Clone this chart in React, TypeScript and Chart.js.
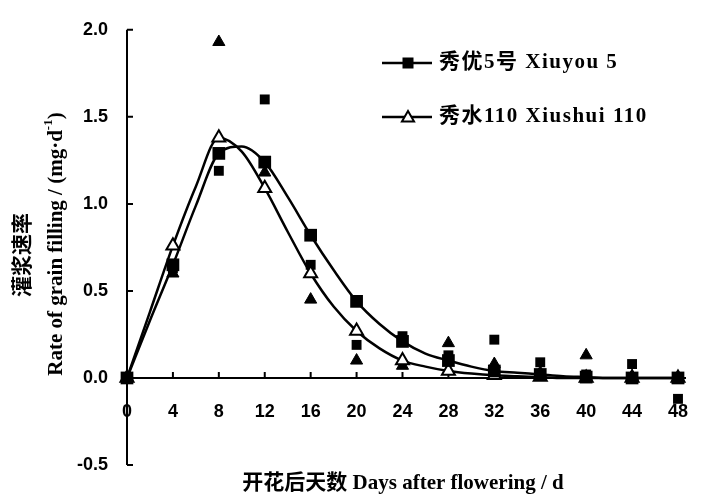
import React, { useEffect, useRef } from 'react';
import { Chart, registerables } from 'chart.js';

Chart.register(...registerables);

// ---- data ----
const days = [0, 4, 8, 12, 16, 20, 24, 28, 32, 36, 40, 44, 48];
const curveDays = [0, 2, 4, 6, 8, 10, 12, 14, 16, 18, 20, 22, 24, 26, 28, 30, 32, 34, 36, 38, 40, 42, 44, 46, 48];
const xiuyouCurve = [0, 0.33, 0.65, 0.99, 1.29, 1.33, 1.24, 1.04, 0.82, 0.62, 0.44, 0.31, 0.21, 0.14, 0.10, 0.065, 0.04, 0.03, 0.02, 0.01, 0.005, 0, 0, 0, 0];
const xiushuiCurve = [0, 0.38, 0.76, 1.10, 1.38, 1.30, 1.09, 0.84, 0.60, 0.41, 0.27, 0.17, 0.10, 0.065, 0.04, 0.025, 0.015, 0.01, 0.005, 0, 0, 0, 0, 0, 0];
const xiuyouObserved = [0, 0.63, 1.19, 1.60, 0.65, 0.19, 0.24, 0.13, 0.22, 0.09, 0.02, 0.08, -0.12];
const xiushuiObserved = [0, 0.60, 1.93, 1.18, 0.45, 0.10, 0.07, 0.20, 0.08, 0.03, 0.13, 0.01, -0.01];
const yTicks = [-0.5, 0, 0.5, 1.0, 1.5, 2.0];
const xTicks = days;
const seriesNames = ['秀优5号 Xiuyou 5', '秀水110 Xiushui 110'];
const xTitle = '开花后天数 Days after flowering / d';
const yTitleCn = '灌浆速率';
const yTitleEn = 'Rate of grain filling / (mg·d';
const yTitleSup = '-1';
const yTitleEnd = ')';

const SERIF = '"Liberation Serif", "Noto Sans CJK SC", serif';
const SANS = '"Liberation Sans", Arial, sans-serif';

const drawSquare = (ctx: CanvasRenderingContext2D, x: number, y: number, s: number) => {
  ctx.fillStyle = '#000';
  ctx.fillRect(x - s / 2, y - s / 2, s, s);
};
const drawTriangle = (ctx: CanvasRenderingContext2D, x: number, y: number, r: number, fill: string) => {
  ctx.beginPath();
  for (let i = 0; i < 3; i++) {
    const a = (i * 2 * Math.PI) / 3;
    const px = x + Math.sin(a) * r;
    const py = y - Math.cos(a) * r;
    if (i === 0) ctx.moveTo(px, py);
    else ctx.lineTo(px, py);
  }
  ctx.closePath();
  ctx.fillStyle = fill;
  ctx.fill();
  ctx.lineWidth = 2;
  ctx.strokeStyle = '#000';
  ctx.stroke();
};

const decorations = {
  id: 'decorations',
  beforeDatasetsDraw(chart: any) {
    const { ctx, scales } = chart;
    const x = scales.x;
    const y = scales.y;
    const x0 = x.getPixelForValue(0);
    const x1 = x.getPixelForValue(48);
    const yTop = y.getPixelForValue(2.0);
    const yBot = y.getPixelForValue(-0.5);
    const yZero = y.getPixelForValue(0);
    ctx.save();
    ctx.strokeStyle = '#000';
    ctx.lineWidth = 2;
    ctx.beginPath();
    ctx.moveTo(x0, yTop);
    ctx.lineTo(x0, yBot);
    ctx.moveTo(x0, yZero);
    ctx.lineTo(x1 + 8, yZero);
    yTicks.forEach((v) => {
      const py = y.getPixelForValue(v);
      ctx.moveTo(x0, py);
      ctx.lineTo(x0 + 6, py);
    });
    xTicks.forEach((v) => {
      const px = x.getPixelForValue(v);
      ctx.moveTo(px, yZero);
      ctx.lineTo(px, yZero - 6);
    });
    ctx.stroke();
    ctx.restore();
  },
  afterDraw(chart: any) {
    const { ctx } = chart;
    ctx.save();
    ctx.fillStyle = '#000';
    // x title
    ctx.font = `bold 21px ${SERIF}`;
    ctx.textAlign = 'center';
    ctx.textBaseline = 'middle';
    ctx.fillText(xTitle, 403, 484);

    // y titles (rotated)
    ctx.save();
    ctx.translate(21, 255);
    ctx.rotate(-Math.PI / 2);
    ctx.font = `bold 21px "Noto Sans CJK SC", sans-serif`;
    ctx.textAlign = 'center';
    ctx.textBaseline = 'middle';
    ctx.fillText(yTitleCn, 0, 0);
    ctx.restore();

    ctx.save();
    ctx.translate(57, 244);
    ctx.rotate(-Math.PI / 2);
    const mainFont = `bold 21px ${SERIF}`;
    const supFont = `bold 13px ${SERIF}`;
    ctx.font = mainFont;
    const w1 = ctx.measureText(yTitleEn).width;
    const w3 = ctx.measureText(yTitleEnd).width;
    ctx.font = supFont;
    const w2 = ctx.measureText(yTitleSup).width;
    let cx = -(w1 + w2 + w3) / 2;
    ctx.textAlign = 'left';
    ctx.textBaseline = 'middle';
    ctx.font = mainFont;
    ctx.fillText(yTitleEn, cx, 0);
    cx += w1;
    ctx.font = supFont;
    ctx.fillText(yTitleSup, cx, -8);
    cx += w2;
    ctx.font = mainFont;
    ctx.fillText(yTitleEnd, cx, 0);
    ctx.restore();

    // legend
    const rows = [63, 117];
    ctx.lineWidth = 2.5;
    ctx.strokeStyle = '#000';
    rows.forEach((ry, i) => {
      ctx.beginPath();
      ctx.moveTo(382, ry);
      ctx.lineTo(432, ry);
      ctx.stroke();
      if (i === 0) drawSquare(ctx, 408, ry, 11);
      else drawTriangle(ctx, 408, ry + 1, 7, '#fff');
      ctx.fillStyle = '#000';
      ctx.font = `bold 21px ${SERIF}`;
      ctx.textAlign = 'left';
      ctx.textBaseline = 'middle';
      (ctx as any).letterSpacing = '1.5px';
      ctx.fillText(seriesNames[i], 439, ry);
      (ctx as any).letterSpacing = '0px';
    });
    ctx.restore();
  },
};

export default function App() {
  const canvasRef = useRef<HTMLCanvasElement | null>(null);

  useEffect(() => {
    if (!canvasRef.current) return;
    const curvePoint = (c: any, r: number) => (curveDays[c.dataIndex] % 4 === 0 ? r : 0);
    const chart = new Chart(canvasRef.current, {
      type: 'line',
      data: {
        datasets: [
          {
            label: seriesNames[0],
            data: curveDays.map((d, i) => ({ x: d, y: xiuyouCurve[i] })),
            borderColor: '#000',
            borderWidth: 2.5,
            cubicInterpolationMode: 'monotone',
            pointStyle: 'rect',
            pointRadius: (c: any) => curvePoint(c, 9),
            pointBackgroundColor: '#000',
            pointBorderColor: '#000',
            pointBorderWidth: 0,
            clip: false,
            order: 0,
          } as any,
          {
            label: seriesNames[1],
            data: curveDays.map((d, i) => ({ x: d, y: xiushuiCurve[i] })),
            borderColor: '#000',
            borderWidth: 2.5,
            cubicInterpolationMode: 'monotone',
            pointStyle: 'triangle',
            pointRadius: (c: any) => curvePoint(c, 7.5),
            pointBackgroundColor: '#fff',
            pointBorderColor: '#000',
            pointBorderWidth: 2,
            clip: false,
            order: 1,
          } as any,
          {
            label: 'Xiuyou 5 observed',
            data: days.map((d, i) => ({ x: d, y: xiuyouObserved[i] })),
            showLine: false,
            pointStyle: 'rect',
            pointRadius: 7,
            pointBackgroundColor: '#000',
            pointBorderColor: '#000',
            pointBorderWidth: 0,
            clip: false,
            order: 3,
          } as any,
          {
            label: 'Xiushui 110 observed',
            data: days.map((d, i) => ({ x: d, y: xiushuiObserved[i] })),
            showLine: false,
            pointStyle: 'triangle',
            pointRadius: 7,
            pointBackgroundColor: '#000',
            pointBorderColor: '#000',
            pointBorderWidth: 1,
            clip: false,
            order: 2,
          } as any,
        ],
      },
      options: {
        animation: false,
        responsive: true,
        maintainAspectRatio: false,
        layout: { padding: { left: 0, top: 25, right: 13, bottom: 32 } },
        plugins: { legend: { display: false }, tooltip: { enabled: false }, title: { display: false } },
        scales: {
          x: {
            type: 'linear',
            min: 0,
            max: 48,
            position: { y: 0 } as any,
            grid: { display: false, drawTicks: false },
            border: { display: false },
            ticks: {
              stepSize: 4,
              autoSkip: false,
              maxRotation: 0,
              padding: 23,
              color: '#000',
              font: { family: SANS, size: 18, weight: 'bold' },
              callback: (v: any) => String(v),
            },
          },
          y: {
            type: 'linear',
            min: -0.5,
            max: 2.0,
            grid: { display: false, drawTicks: false },
            border: { display: false },
            afterFit: (s: any) => {
              s.width = 127;
            },
            ticks: {
              stepSize: 0.5,
              padding: 19,
              color: '#000',
              font: { family: SANS, size: 18, weight: 'bold' },
              callback: (v: any) => Number(v).toFixed(1),
            },
          },
        },
      } as any,
      plugins: [decorations],
    });
    return () => chart.destroy();
  }, []);

  return (
    <div style={{ position: 'fixed', left: 0, top: 0, width: 711, height: 497, background: '#fff' }}>
      <canvas ref={canvasRef} />
    </div>
  );
}
